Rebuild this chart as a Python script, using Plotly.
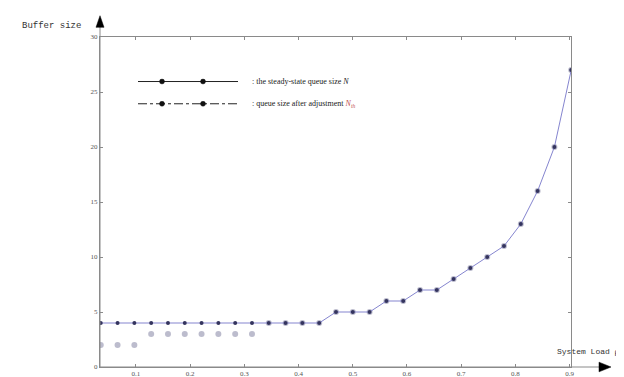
import plotly.graph_objects as go

# ---- data ----
rho = [0.035, 0.066, 0.097, 0.128, 0.159, 0.190, 0.221, 0.252, 0.283, 0.314,
       0.345, 0.376, 0.407, 0.438, 0.469, 0.500, 0.531, 0.562, 0.593, 0.624,
       0.655, 0.686, 0.717, 0.748, 0.779, 0.810, 0.841, 0.872, 0.903]
steady_state = [4, 4, 4, 4, 4, 4, 4, 4, 4, 4,
                4, 4, 4, 4, 5, 5, 5, 6, 6, 7,
                7, 8, 9, 10, 11, 13, 16, 20, 27]
after_adjust = [2, 2, 2, 3, 3, 3, 3, 3, 3, 3,
                4, 4, 4, 4, 5, 5, 5, 6, 6, 7,
                7, 8, 9, 10, 11, 13, 16, 20, 27]
x_ticks = [0.1, 0.2, 0.3, 0.4, 0.5, 0.6, 0.7, 0.8, 0.9]
x_tick_labels = ["0.1", "0.2", "0.3", "0.4", "0.5", "0.6", "0.7", "0.8", "0.9"]
y_ticks = [0, 5, 10, 15, 20, 25, 30]
y_tick_labels = ["0", "5", "10", "15", "20", "25", "30"]

LINE_C = "#8585cf"
MARK_C = "#34345e"
AXIS_C = "#8a8a8a"

fig = go.Figure()
fig.add_trace(go.Scatter(
    x=rho, y=after_adjust, mode="markers", showlegend=False,
    marker=dict(size=6, color="rgba(95,95,135,0.42)", symbol="circle"),
))
fig.add_trace(go.Scatter(
    x=rho, y=steady_state, mode="lines+markers", showlegend=False,
    line=dict(color=LINE_C, width=1),
    marker=dict(size=4, color=MARK_C),
))

# plot area in pixels: x 92..563, y 29..370
W, H = 624, 377
L, R, T, B = 92, 61, 29, 7
pw, ph = W - L - R, H - T - B

def px(xp):
    return (xp - L) / pw

def py(yp):
    return (H - B - yp) / ph

shapes = []
annos = []

# axis extensions with arrows
shapes.append(dict(type="line", xref="paper", yref="paper", x0=0, x1=px(594), y0=0, y1=0,
                   line=dict(color=AXIS_C, width=1)))
shapes.append(dict(type="line", xref="paper", yref="paper", x0=0, x1=0, y0=0, y1=py(16),
                   line=dict(color=AXIS_C, width=1)))
shapes.append(dict(type="path", xref="paper", yref="paper",
                   path=f"M {px(603)},0 L {px(591)},{py(365)} L {px(591)},{py(375)} Z",
                   fillcolor="black", line=dict(color="black", width=0.5)))
shapes.append(dict(type="path", xref="paper", yref="paper",
                   path=f"M 0,{py(7)} L {px(88)},{py(19)} L {px(96)},{py(19)} Z",
                   fillcolor="black", line=dict(color="black", width=0.5)))

# custom legend
leg_rows = [(75, "solid", ": the steady-state queue size <i>N</i>"),
            (98, "dashdot", ": queue size after adjustment <i><span style='color:#c05050'>N<sub>th</sub></span></i>")]
for yp, dash, txt in leg_rows:
    shapes.append(dict(type="line", xref="paper", yref="paper",
                       x0=px(130), x1=px(230), y0=py(yp), y1=py(yp),
                       line=dict(color="#222222", width=1, dash=dash)))
    for xm in (154, 195):
        shapes.append(dict(type="circle", xref="paper", yref="paper",
                           x0=px(xm - 2.5), x1=px(xm + 2.5), y0=py(yp + 2.5), y1=py(yp - 2.5),
                           fillcolor="#111111", line=dict(color="#111111", width=0.5)))
    annos.append(dict(xref="paper", yref="paper", x=px(242), y=py(yp), xanchor="left",
                      yanchor="middle", showarrow=False, text=txt,
                      font=dict(family="Liberation Serif", size=8, color="#222222")))

# axis titles
annos.append(dict(xref="paper", yref="paper", x=px(12), y=py(18), xanchor="left",
                  yanchor="middle", showarrow=False, text="Buffer size",
                  font=dict(family="Liberation Mono", size=9, color="#333333")))
annos.append(dict(xref="paper", yref="paper", x=px(614), y=py(354), xanchor="right",
                  yanchor="middle", showarrow=False,
                  text="System Load ρ",
                  font=dict(family="Liberation Mono", size=8, color="#333333")))

tick_font = dict(family="Liberation Serif", size=7, color="#555555")
fig.update_layout(
    width=W, height=H,
    margin=dict(l=L, r=R, t=T, b=B, pad=0),
    paper_bgcolor="white", plot_bgcolor="white",
    shapes=shapes, annotations=annos,
    xaxis=dict(range=[0.0336, 0.9026], tickvals=x_ticks, ticktext=x_tick_labels,
               showgrid=False, zeroline=False, showline=True, linecolor=AXIS_C, linewidth=1,
               mirror="allticks", ticks="inside", ticklen=3, tickcolor=AXIS_C,
               tickfont=tick_font),
    yaxis=dict(range=[0, 30], tickvals=y_ticks, ticktext=y_tick_labels,
               showgrid=False, zeroline=False, showline=True, linecolor=AXIS_C, linewidth=1,
               mirror="allticks", ticks="inside", ticklen=3, tickcolor=AXIS_C,
               tickfont=tick_font),
)

fig.write_html("out.html")
